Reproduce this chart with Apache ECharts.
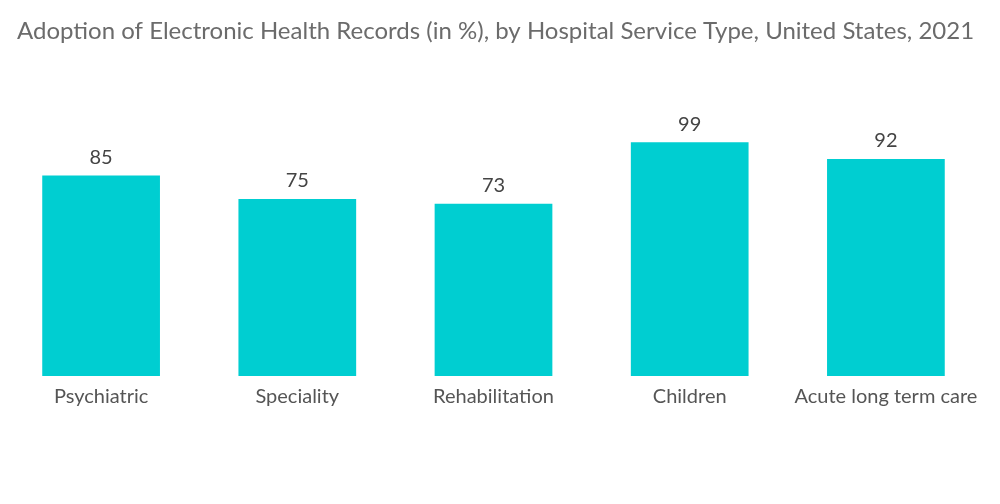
<!DOCTYPE html>
<html><head><meta charset="utf-8">
<script src="https://cdn.jsdelivr.net/npm/echarts@6/dist/echarts.min.js"></script>
<style>html,body{margin:0;padding:0;background:#fff}#c{width:1000px;height:504px}</style>
</head><body><div id="c"></div>
<script>
var categories = ["Psychiatric", "Speciality", "Rehabilitation", "Children", "Acute long term care"];
var values = [85, 75, 73, 99, 92];
var chart = echarts.init(document.getElementById('c'));
chart.setOption({
  animation: false,
  title: {
    text: "Adoption of Electronic Health Records (in %), by Hospital Service Type, United States, 2021",
    left: 12, top: 14,
    textStyle: {fontFamily: "Lato", fontSize: 24, fontWeight: "normal", color: "#6b6b6b"}
  },
  grid: {left: 3, right: 16, top: 140, bottom: 128},
  xAxis: {
    type: "category", data: categories,
    axisLine: {show: false}, axisTick: {show: false},
    axisLabel: {fontFamily: "Lato", fontSize: 20, color: "#555", margin: 11, interval: 0}
  },
  yAxis: {type: "value", min: 0, max: 100, show: false, splitLine: {show: false}},
  series: [{
    type: "bar", data: values, barWidth: "60%",
    itemStyle: {color: "#00CED1"},
    label: {show: true, position: "top", distance: 8, fontFamily: "Lato", fontSize: 20, color: "#444"}
  }]
});
</script></body></html>
